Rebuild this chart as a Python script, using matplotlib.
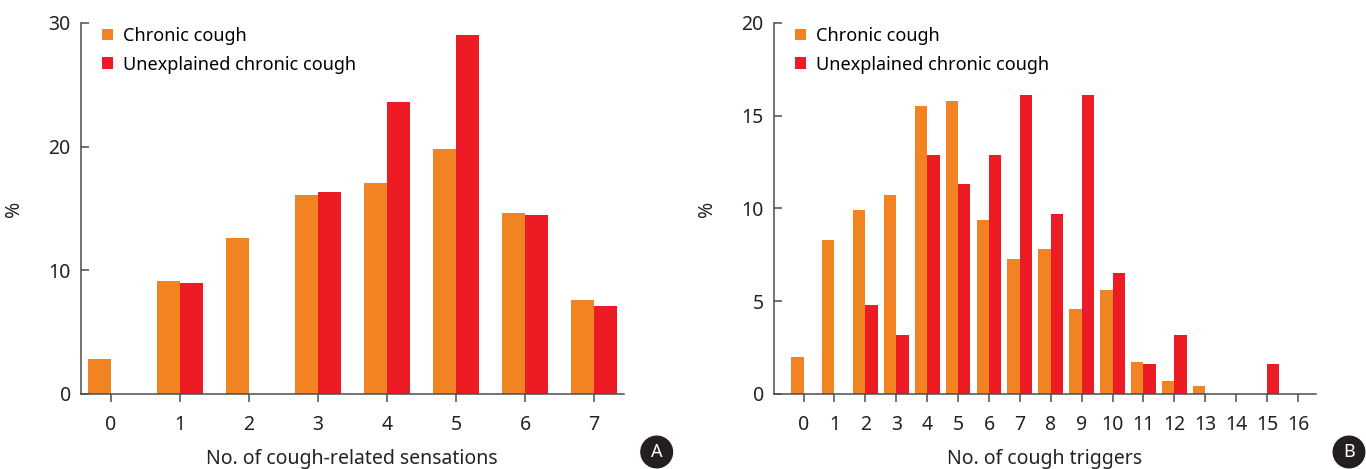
import numpy as np
import matplotlib
matplotlib.use('Agg')
import matplotlib.pyplot as plt
from matplotlib.patches import Circle

plt.rcParams['font.family'] = ['Noto Sans', 'DejaVu Sans']

# panel A: cough-related sensations
sens_cats = np.arange(0, 8)
sens_chronic = [2.8, 9.1, 12.6, 16.1, 17.1, 19.8, 14.6, 7.6]
sens_unexpl = [0, 9.0, 0, 16.3, 23.6, 29.0, 14.5, 7.1]

# panel B: cough triggers
trig_cats = np.arange(0, 17)
trig_chronic = [2.0, 8.3, 9.9, 10.7, 15.5, 15.8, 9.4, 7.3, 7.8, 4.6, 5.6, 1.7, 0.7, 0.45, 0, 0, 0]
trig_unexpl = [0, 0, 4.8, 3.2, 12.9, 11.3, 12.9, 16.1, 9.7, 16.1, 6.5, 1.6, 3.2, 0, 0, 1.6, 0]

ORANGE = '#F28322'
RED = '#ED1C24'
AXCOL = '#4d4d4d'
TXT = '#222222'

fig = plt.figure(figsize=(13.66, 4.69), dpi=100)


def draw_panel(ax, cats, s1, s2, width, xlim, ylim, yticks, xlabel):
    ax.bar(cats - width / 2, s1, width=width, color=ORANGE, label='Chronic cough')
    ax.bar(cats + width / 2, s2, width=width, color=RED, label='Unexplained chronic cough')
    ax.set_xlim(*xlim)
    ax.set_ylim(*ylim)
    ax.set_yticks(yticks)
    ax.set_xticks(cats)
    for s in ['top', 'right']:
        ax.spines[s].set_visible(False)
    for s in ['left', 'bottom']:
        ax.spines[s].set_color(AXCOL)
        ax.spines[s].set_linewidth(1.1)
    ax.tick_params(axis='y', direction='in', length=6, width=1.1, color=AXCOL,
                   labelsize=14, pad=7, labelcolor=TXT)
    ax.tick_params(axis='x', direction='out', length=6, width=1.1, color=AXCOL,
                   labelsize=14, pad=9, labelcolor=TXT)
    ax.set_xlabel(xlabel, fontsize=14, color=TXT, labelpad=10)
    ax.set_ylabel('%', fontsize=14, color=TXT)
    ax.yaxis.set_label_coords(-0.105, 0.5)
    ax.legend(loc='upper left', bbox_to_anchor=(0.04, 0.99), frameon=False,
              fontsize=13, handlelength=0.6, handleheight=0.6, handletextpad=0.55,
              labelspacing=0.6, borderpad=0, borderaxespad=0)


axA = fig.add_axes([0.059, 0.16, 0.3976, 0.791])
draw_panel(axA, sens_cats, sens_chronic, sens_unexpl, 1 / 3, (-0.435, 7.43), (0, 30),
           [0, 10, 20, 30], 'No. of cough-related sensations')

axB = fig.add_axes([0.5663, 0.16, 0.397, 0.791])
draw_panel(axB, trig_cats, trig_chronic, trig_unexpl, 0.4, (-0.97, 16.58), (0, 20),
           [0, 5, 10, 15, 20], 'No. of cough triggers')

# panel badges
for lbl, cx in [('A', 6.567), ('B', 13.49)]:
    cy = (469 - 452) / 100
    fig.add_artist(Circle((cx, cy), 0.158, transform=fig.dpi_scale_trans,
                          color='#231f20', zorder=5))
    fig.text(cx / 13.66, cy / 4.69, lbl, ha='center', va='center', color='white',
             fontsize=13, fontweight='bold', zorder=6)

fig.savefig('out.png', dpi=100)
